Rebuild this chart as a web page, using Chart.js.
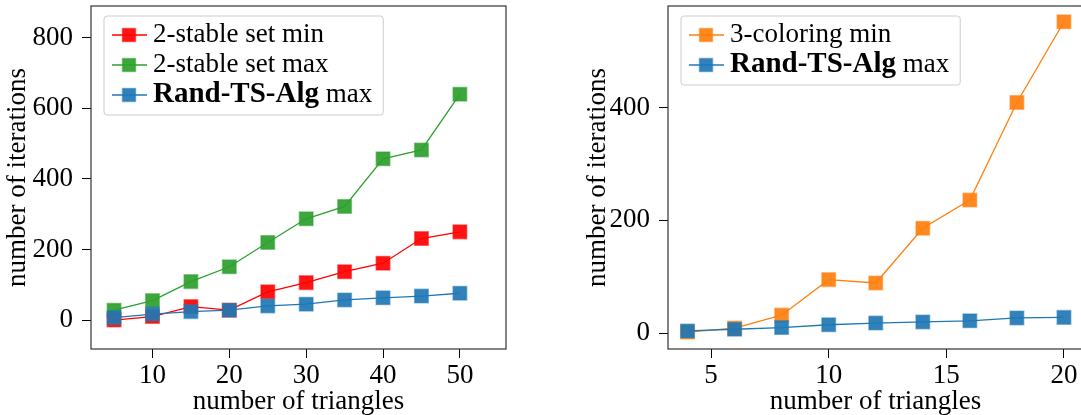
<!DOCTYPE html>
<html>
<head>
<meta charset="utf-8">
<script src="https://cdn.jsdelivr.net/npm/chart.js"></script>
<style>
  html, body { margin: 0; padding: 0; background: #fff; overflow: hidden; }
  #wrap { position: relative; width: 1081px; height: 415px; overflow: hidden; }
  .box { position: absolute; top: 0; height: 415px; }
  #left { left: 0; width: 540px; }
  #right { left: 560px; width: 523px; }
</style>
</head>
<body>
<div id="wrap">
  <div class="box" id="left"><canvas id="stableChart"></canvas></div>
  <div class="box" id="right"><canvas id="coloringChart"></canvas></div>
</div>
<script>
// left panel
const triangles = [5, 10, 15, 20, 25, 30, 35, 40, 45, 50];
const stableMin = [0, 10, 38, 28, 80, 106, 137, 161, 231, 250];
const stableMax = [28, 55, 109, 151, 220, 287, 322, 457, 482, 640];
const randTsLeft = [7, 17, 24, 28, 40, 45, 57, 63, 68, 76];
const leftXTicks = [10, 20, 30, 40, 50];
const leftYTicks = [0, 200, 400, 600, 800];

// right panel
const trianglesSmall = [4, 6, 8, 10, 12, 14, 16, 18, 20];
const coloringMin = [2, 9, 32, 95, 89, 186, 236, 409, 552];
const randTsRight = [4, 7, 10, 15, 18, 20, 22, 27, 28];
const rightXTicks = [5, 10, 15, 20];
const rightYTicks = [0, 200, 400];

const RED = "255, 0, 0";
const GREEN = "44, 160, 44";
const BLUE = "31, 119, 180";
const ORANGE = "255, 127, 14";
const FONT = "'Liberation Serif', 'DejaVu Serif', serif";

Chart.defaults.font.family = FONT;
Chart.defaults.font.size = 27;
Chart.defaults.color = "#000";

function series(label, xs, ys, rgb, order) {
  return {
    label: label,
    data: xs.map((x, i) => ({ x: x, y: ys[i] })),
    borderColor: "rgb(" + rgb + ")",
    backgroundColor: "rgb(" + rgb + ")",
    borderWidth: 1.3,
    pointStyle: "rect",
    pointRadius: 9.6,
    pointHoverRadius: 9.6,
    pointBackgroundColor: "rgba(" + rgb + ", 0.92)",
    pointBorderColor: "rgba(" + rgb + ", 0.5)",
    pointBorderWidth: 1.5,
    tension: 0,
    order: order,
  };
}

const frame = {
  id: "frame",
  afterDraw(chart) {
    const a = chart.chartArea;
    const ctx = chart.ctx;
    ctx.save();
    ctx.strokeStyle = "#333";
    ctx.lineWidth = 1.2;
    ctx.strokeRect(a.left, a.top, a.right - a.left, a.bottom - a.top);
    ctx.restore();
  },
};

const boxLegend = {
  id: "boxLegend",
  afterDraw(chart, args, opts) {
    const ctx = chart.ctx;
    const a = chart.chartArea;
    const x0 = a.left + 13;
    const y0 = a.top + 10;
    const rowH = 30;
    const fontOf = (bold) => (bold ? "bold 29px " : "27px ") + FONT;
    ctx.save();
    let maxW = 0;
    opts.items.forEach((it) => {
      let w = 0;
      it.parts.forEach((p) => {
        ctx.font = fontOf(p.bold);
        w += ctx.measureText(p.text).width;
      });
      maxW = Math.max(maxW, w);
    });
    const w = 49 + maxW + 11;
    const h = opts.items.length * rowH + 9;
    ctx.beginPath();
    ctx.roundRect(x0, y0, w, h, 3);
    ctx.fillStyle = "rgba(255,255,255,0.8)";
    ctx.fill();
    ctx.strokeStyle = "#cccccc";
    ctx.lineWidth = 1;
    ctx.stroke();

    opts.items.forEach((it, i) => {
      const y = y0 + 19 + i * rowH;
      ctx.strokeStyle = "rgb(" + it.rgb + ")";
      ctx.lineWidth = 1.3;
      ctx.beginPath();
      ctx.moveTo(x0 + 8, y);
      ctx.lineTo(x0 + 43, y);
      ctx.stroke();
      ctx.fillStyle = "rgba(" + it.rgb + ", 0.92)";
      ctx.fillRect(x0 + 25 - 6.5, y - 6.5, 13, 13);
      ctx.strokeStyle = "rgba(" + it.rgb + ", 0.5)";
      ctx.lineWidth = 1.5;
      ctx.strokeRect(x0 + 25 - 6.5, y - 6.5, 13, 13);
      let tx = x0 + 49;
      ctx.fillStyle = "#000";
      ctx.textBaseline = "middle";
      it.parts.forEach((p) => {
        ctx.font = fontOf(p.bold);
        ctx.fillText(p.text, tx, y);
        tx += ctx.measureText(p.text).width;
      });
    });
    ctx.restore();
  },
};

function makeOptions(cfg) {
  return {
    responsive: true,
    maintainAspectRatio: false,
    animation: false,
    layout: { autoPadding: false, padding: { top: 6, right: cfg.rightPad, left: 0, bottom: 0 } },
    plugins: {
      legend: { display: false },
      tooltip: { enabled: false },
      boxLegend: { items: cfg.legend },
    },
    scales: {
      x: {
        type: "linear",
        min: cfg.xMin,
        max: cfg.xMax,
        afterBuildTicks: (s) => { s.ticks = cfg.xTicks.map((v) => ({ value: v })); },
        afterFit: (s) => { s.height = 66; s.paddingLeft = 0; s.paddingRight = 0; },
        grid: { drawOnChartArea: false, tickLength: 9, color: "#000", lineWidth: 1 },
        border: { display: false },
        ticks: { padding: 2, maxRotation: 0 },
        title: { display: true, text: "number of triangles", padding: { top: 0, bottom: -3 } },
      },
      y: {
        min: cfg.yMin,
        max: cfg.yMax,
        afterBuildTicks: (s) => { s.ticks = cfg.yTicks.map((v) => ({ value: v })); },
        afterFit: (s) => { s.width = cfg.yWidth; s.paddingTop = 0; s.paddingBottom = 0; },
        grid: { drawOnChartArea: false, tickLength: 9, color: "#000", lineWidth: 1 },
        border: { display: false },
        ticks: { padding: 9 },
        title: { display: true, text: "number of iterations", padding: { top: cfg.yTitlePad, bottom: 0 } },
      },
    },
  };
}

new Chart(document.getElementById("stableChart"), {
  type: "line",
  data: {
    datasets: [
      series("2-stable set min", triangles, stableMin, RED, 2),
      series("2-stable set max", triangles, stableMax, GREEN, 3),
      series("Rand-TS-Alg max", triangles, randTsLeft, BLUE, 1),
    ],
  },
  options: makeOptions({
    xMin: 2, xMax: 56, yMin: -82, yMax: 890,
    xTicks: leftXTicks, yTicks: leftYTicks,
    yWidth: 91, yTitlePad: 2, rightPad: 34,
    legend: [
      { rgb: RED, parts: [{ text: "2-stable set min" }] },
      { rgb: GREEN, parts: [{ text: "2-stable set max" }] },
      { rgb: BLUE, parts: [{ text: "Rand-TS-Alg", bold: true }, { text: " max" }] },
    ],
  }),
  plugins: [frame, boxLegend],
});

new Chart(document.getElementById("coloringChart"), {
  type: "line",
  data: {
    datasets: [
      series("3-coloring min", trianglesSmall, coloringMin, ORANGE, 2),
      series("Rand-TS-Alg max", trianglesSmall, randTsRight, BLUE, 1),
    ],
  },
  options: makeOptions({
    xMin: 3.17, xMax: 20.81, yMin: -28, yMax: 580,
    xTicks: rightXTicks, yTicks: rightYTicks,
    yWidth: 108, yTitlePad: 22, rightPad: 0,
    legend: [
      { rgb: ORANGE, parts: [{ text: "3-coloring min" }] },
      { rgb: BLUE, parts: [{ text: "Rand-TS-Alg", bold: true }, { text: " max" }] },
    ],
  }),
  plugins: [frame, boxLegend],
});
</script>
</body>
</html>
